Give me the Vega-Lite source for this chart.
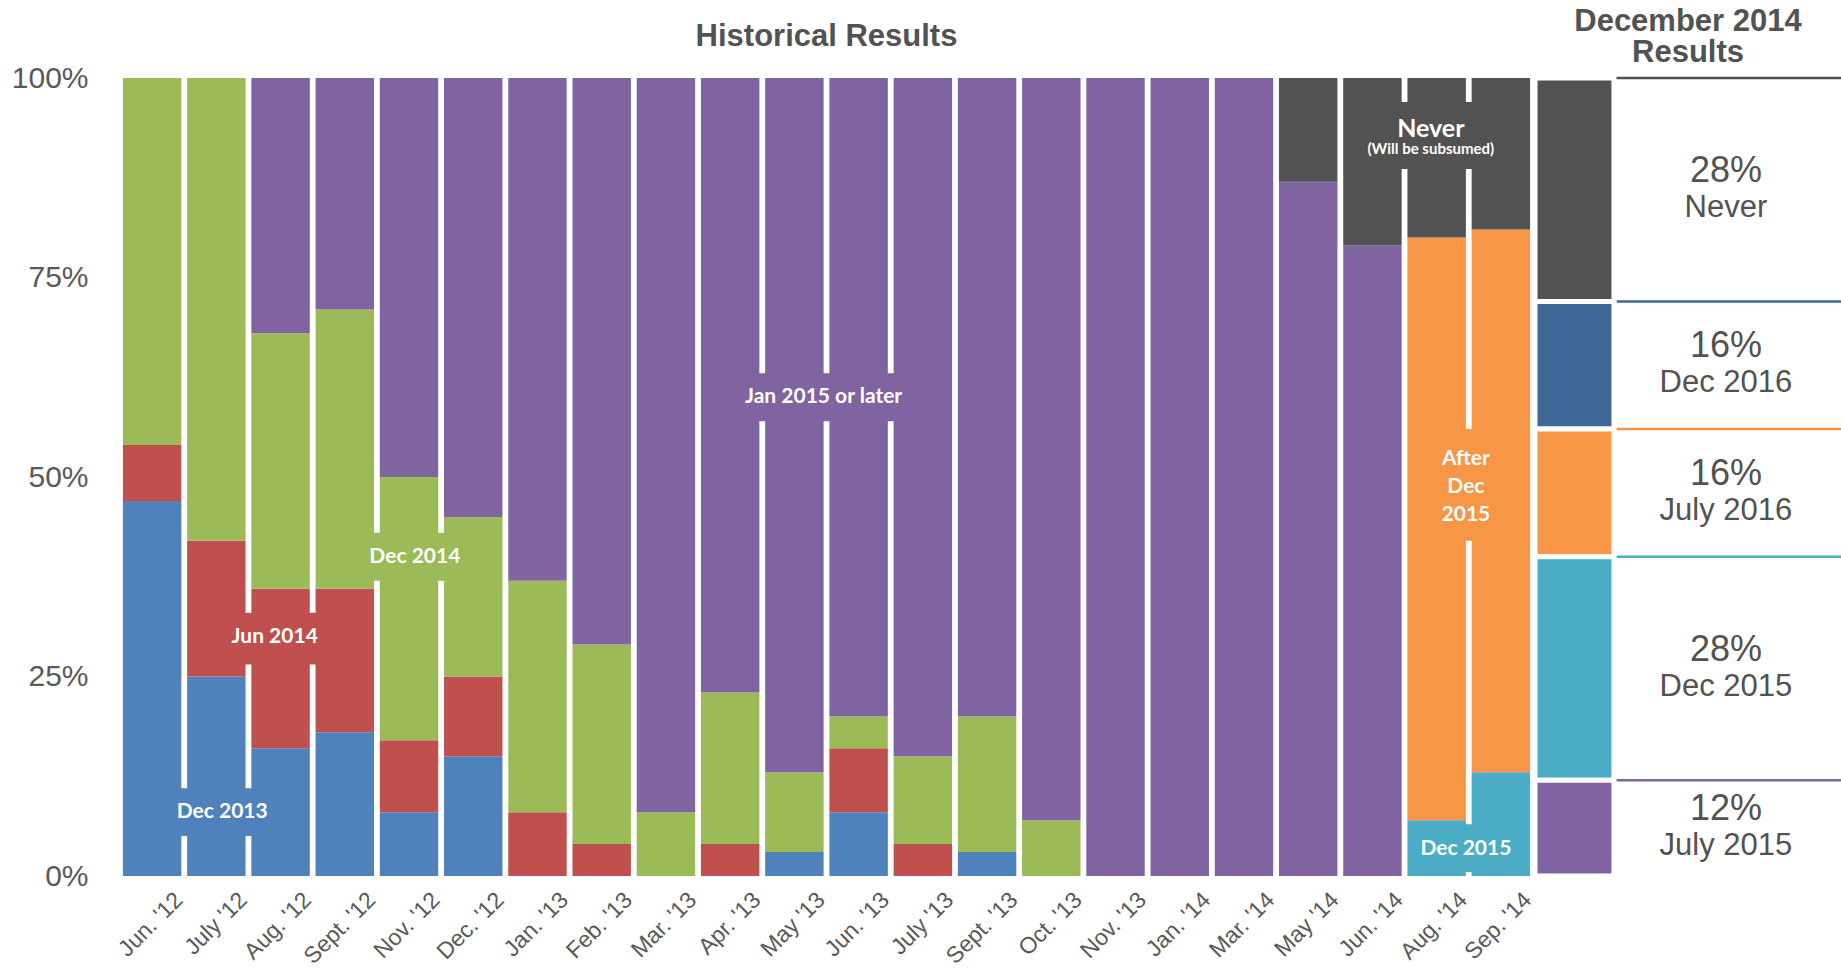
{
  "$schema": "https://vega.github.io/schema/vega-lite/v6.json",
  "padding": {"left": 11, "top": 5, "right": 0, "bottom": 0},
  "background": "white",
  "bounds": "flush",
  "spacing": 2,
  "config": {"view": {"stroke": null}, "font": "Liberation Sans"},
  "datasets": {
    "hist": [
      {"month": "Jun. '12", "status": "Dec 2013", "when": "2013-12", "pct": 47},
      {"month": "Jun. '12", "status": "Jun 2014", "when": "2014-06", "pct": 7},
      {"month": "Jun. '12", "status": "Dec 2014", "when": "2014-12", "pct": 46},
      {"month": "July '12", "status": "Dec 2013", "when": "2013-12", "pct": 25},
      {"month": "July '12", "status": "Jun 2014", "when": "2014-06", "pct": 17},
      {"month": "July '12", "status": "Dec 2014", "when": "2014-12", "pct": 58},
      {"month": "Aug. '12", "status": "Dec 2013", "when": "2013-12", "pct": 16},
      {"month": "Aug. '12", "status": "Jun 2014", "when": "2014-06", "pct": 20},
      {"month": "Aug. '12", "status": "Dec 2014", "when": "2014-12", "pct": 32},
      {"month": "Aug. '12", "status": "Jan 2015 or later", "when": "2015-01", "pct": 32},
      {"month": "Sept. '12", "status": "Dec 2013", "when": "2013-12", "pct": 18},
      {"month": "Sept. '12", "status": "Jun 2014", "when": "2014-06", "pct": 18},
      {"month": "Sept. '12", "status": "Dec 2014", "when": "2014-12", "pct": 35},
      {"month": "Sept. '12", "status": "Jan 2015 or later", "when": "2015-01", "pct": 29},
      {"month": "Nov. '12", "status": "Dec 2013", "when": "2013-12", "pct": 8},
      {"month": "Nov. '12", "status": "Jun 2014", "when": "2014-06", "pct": 9},
      {"month": "Nov. '12", "status": "Dec 2014", "when": "2014-12", "pct": 33},
      {"month": "Nov. '12", "status": "Jan 2015 or later", "when": "2015-01", "pct": 50},
      {"month": "Dec. '12", "status": "Dec 2013", "when": "2013-12", "pct": 15},
      {"month": "Dec. '12", "status": "Jun 2014", "when": "2014-06", "pct": 10},
      {"month": "Dec. '12", "status": "Dec 2014", "when": "2014-12", "pct": 20},
      {"month": "Dec. '12", "status": "Jan 2015 or later", "when": "2015-01", "pct": 55},
      {"month": "Jan. '13", "status": "Jun 2014", "when": "2014-06", "pct": 8},
      {"month": "Jan. '13", "status": "Dec 2014", "when": "2014-12", "pct": 29},
      {"month": "Jan. '13", "status": "Jan 2015 or later", "when": "2015-01", "pct": 63},
      {"month": "Feb. '13", "status": "Jun 2014", "when": "2014-06", "pct": 4},
      {"month": "Feb. '13", "status": "Dec 2014", "when": "2014-12", "pct": 25},
      {"month": "Feb. '13", "status": "Jan 2015 or later", "when": "2015-01", "pct": 71},
      {"month": "Mar. '13", "status": "Dec 2014", "when": "2014-12", "pct": 8},
      {"month": "Mar. '13", "status": "Jan 2015 or later", "when": "2015-01", "pct": 92},
      {"month": "Apr. '13", "status": "Jun 2014", "when": "2014-06", "pct": 4},
      {"month": "Apr. '13", "status": "Dec 2014", "when": "2014-12", "pct": 19},
      {"month": "Apr. '13", "status": "Jan 2015 or later", "when": "2015-01", "pct": 77},
      {"month": "May '13", "status": "Dec 2013", "when": "2013-12", "pct": 3},
      {"month": "May '13", "status": "Dec 2014", "when": "2014-12", "pct": 10},
      {"month": "May '13", "status": "Jan 2015 or later", "when": "2015-01", "pct": 87},
      {"month": "Jun. '13", "status": "Dec 2013", "when": "2013-12", "pct": 8},
      {"month": "Jun. '13", "status": "Jun 2014", "when": "2014-06", "pct": 8},
      {"month": "Jun. '13", "status": "Dec 2014", "when": "2014-12", "pct": 4},
      {"month": "Jun. '13", "status": "Jan 2015 or later", "when": "2015-01", "pct": 80},
      {"month": "July '13", "status": "Jun 2014", "when": "2014-06", "pct": 4},
      {"month": "July '13", "status": "Dec 2014", "when": "2014-12", "pct": 11},
      {"month": "July '13", "status": "Jan 2015 or later", "when": "2015-01", "pct": 85},
      {"month": "Sept. '13", "status": "Dec 2013", "when": "2013-12", "pct": 3},
      {"month": "Sept. '13", "status": "Dec 2014", "when": "2014-12", "pct": 17},
      {"month": "Sept. '13", "status": "Jan 2015 or later", "when": "2015-01", "pct": 80},
      {"month": "Oct. '13", "status": "Dec 2014", "when": "2014-12", "pct": 7},
      {"month": "Oct. '13", "status": "Jan 2015 or later", "when": "2015-01", "pct": 93},
      {"month": "Nov. '13", "status": "Jan 2015 or later", "when": "2015-01", "pct": 100},
      {"month": "Jan. '14", "status": "Jan 2015 or later", "when": "2015-01", "pct": 100},
      {"month": "Mar. '14", "status": "Jan 2015 or later", "when": "2015-01", "pct": 100},
      {"month": "May '14", "status": "Jan 2015 or later", "when": "2015-01", "pct": 87},
      {"month": "May '14", "status": "Never", "when": "never", "pct": 13},
      {"month": "Jun. '14", "status": "Jan 2015 or later", "when": "2015-01", "pct": 79},
      {"month": "Jun. '14", "status": "Never", "when": "never", "pct": 21},
      {"month": "Aug. '14", "status": "Dec 2015", "when": "2015-12", "pct": 7},
      {"month": "Aug. '14", "status": "After Dec 2015", "when": "2016-01", "pct": 73},
      {"month": "Aug. '14", "status": "Never", "when": "never", "pct": 20},
      {"month": "Sep. '14", "status": "Dec 2015", "when": "2015-12", "pct": 13},
      {"month": "Sep. '14", "status": "After Dec 2015", "when": "2016-01", "pct": 68},
      {"month": "Sep. '14", "status": "Never", "when": "never", "pct": 19}
    ],
    "notebg": [
      {"from": "Jun. '12", "to": "Aug. '12", "lo": 5, "hi": 11, "status": "Dec 2013"},
      {"from": "July '12", "to": "Sept. '12", "lo": 26.5, "hi": 33, "status": "Jun 2014"},
      {"from": "Sept. '12", "to": "Dec. '12", "lo": 37, "hi": 43, "status": "Dec 2014"},
      {"from": "Apr. '13", "to": "July '13", "lo": 57, "hi": 63, "status": "Jan 2015 or later"},
      {"from": "Jun. '14", "to": "Sep. '14", "lo": 88.6, "hi": 97, "status": "Never"},
      {"from": "Aug. '14", "to": "Sep. '14", "lo": 42, "hi": 56, "status": "After Dec 2015"},
      {"from": "Aug. '14", "to": "Sep. '14", "lo": 0.5, "hi": 6.5, "status": "Dec 2015"}
    ],
    "notes": [
      {"grp": "a", "month": "July '12", "y": 8, "label": "Dec 2013"},
      {"grp": "a", "month": "Nov. '12", "y": 40, "label": "Dec 2014"},
      {"grp": "b", "month": "Aug. '12", "y": 30, "label": "Jun 2014"},
      {"grp": "c", "month": "May '13", "y": 60, "label": "Jan 2015 or later"},
      {"grp": "c", "month": "Aug. '14", "y": 52.3, "label": "After"},
      {"grp": "c", "month": "Aug. '14", "y": 48.7, "label": "Dec"},
      {"grp": "c", "month": "Aug. '14", "y": 45.3, "label": "2015"},
      {"grp": "c", "month": "Aug. '14", "y": 3.4, "label": "Dec 2015"},
      {"grp": "d", "month": "Aug. '14", "y": 93.6, "label": "Never"},
      {"grp": "e", "month": "Aug. '14", "y": 91.1, "label": "(Will be subsumed)"}
    ],
    "dec14": [
      {"status": "Never", "when": "never", "pct": 28},
      {"status": "Dec 2016", "when": "2016-12", "pct": 16},
      {"status": "July 2016", "when": "2016-07", "pct": 16},
      {"status": "Dec 2015", "when": "2015-12", "pct": 28},
      {"status": "July 2015", "when": "2015-07", "pct": 12}
    ]
  },
  "hconcat": [
    {
      "width": 1413,
      "height": 798,
      "title": {"text": "Historical Results", "font": "Liberation Sans", "fontSize": 31, "fontWeight": "bold", "color": "#525252", "anchor": "middle", "offset": 30, "dy": 20},
      "layer": [
        {
          "data": {"name": "hist"},
          "mark": {"type": "bar"},
          "encoding": {
            "x": {
              "field": "month", "type": "nominal", "title": null,
              "scale": {
                "domain": ["Jun. '12", "July '12", "Aug. '12", "Sept. '12", "Nov. '12", "Dec. '12", "Jan. '13", "Feb. '13", "Mar. '13", "Apr. '13", "May '13", "Jun. '13", "July '13", "Sept. '13", "Oct. '13", "Nov. '13", "Jan. '14", "Mar. '14", "May '14", "Jun. '14", "Aug. '14", "Sep. '14"],
                "paddingInner": 0.09, "paddingOuter": 0.045
              },
              "axis": {
                "title": null, "domain": false, "ticks": false, "tickSize": 0,
                "labelAngle": -45, "labelAlign": "right", "labelBaseline": "middle",
                "labelOffset": 27, "labelPadding": 20,
                "labelFont": "Liberation Sans", "labelFontSize": 23, "labelColor": "#595959"
              }
            },
            "y": {
              "field": "pct", "type": "quantitative", "stack": "zero", "title": null,
              "scale": {"domain": [0, 100], "nice": false},
              "axis": {
                "title": null, "domain": false, "ticks": false, "grid": false,
                "values": [0, 25, 50, 75, 100],
                "labelExpr": "datum.value + '%'",
                "labelPadding": 32,
                "labelFont": "Liberation Sans", "labelFontSize": 30, "labelColor": "#595959"
              }
            },
            "color": {
              "field": "status", "type": "nominal", "legend": null,
              "scale": {
                "domain": ["Dec 2013", "Jun 2014", "Dec 2014", "Jan 2015 or later", "Dec 2015", "After Dec 2015", "Never", "July 2015", "July 2016", "Dec 2016"],
                "range": ["#4F81BD", "#C0504D", "#9BBB59", "#8064A2", "#4BACC6", "#F79646", "#525252", "#8064A2", "#F79646", "#3F6797"]
              }
            },
            "order": {"field": "when", "sort": "ascending"}
          }
        },
        {
          "data": {"name": "notebg"},
          "mark": {"type": "rect"},
          "encoding": {
            "x": {"field": "from", "type": "nominal", "bandPosition": 0.5, "title": null},
            "x2": {"field": "to", "bandPosition": 0.5},
            "y": {"field": "lo", "type": "quantitative", "title": null},
            "y2": {"field": "hi"},
            "color": {"field": "status", "type": "nominal", "legend": null}
          }
        },
        {
          "data": {"name": "notes"},
          "transform": [{"filter": "datum.grp == 'a'"}],
          "mark": {"type": "text", "font": "Lato", "fontWeight": "bold", "fontSize": 21, "color": "white", "baseline": "middle"},
          "encoding": {
            "x": {"field": "month", "type": "nominal", "bandPosition": 0.6, "title": null},
            "y": {"field": "y", "type": "quantitative", "title": null},
            "text": {"field": "label"}
          }
        },
        {
          "data": {"name": "notes"},
          "transform": [{"filter": "datum.grp == 'b'"}],
          "mark": {"type": "text", "font": "Lato", "fontWeight": "bold", "fontSize": 21, "color": "white", "baseline": "middle"},
          "encoding": {
            "x": {"field": "month", "type": "nominal", "bandPosition": 0.4, "title": null},
            "y": {"field": "y", "type": "quantitative", "title": null},
            "text": {"field": "label"}
          }
        },
        {
          "data": {"name": "notes"},
          "transform": [{"filter": "datum.grp == 'c'"}],
          "mark": {"type": "text", "font": "Lato", "fontWeight": "bold", "fontSize": 21, "color": "white", "baseline": "middle"},
          "encoding": {
            "x": {"field": "month", "type": "nominal", "bandPosition": 1.0, "title": null},
            "y": {"field": "y", "type": "quantitative", "title": null},
            "text": {"field": "label"}
          }
        },
        {
          "data": {"name": "notes"},
          "transform": [{"filter": "datum.grp == 'd'"}],
          "mark": {"type": "text", "font": "Lato", "fontWeight": "bold", "fontSize": 25, "color": "white", "baseline": "middle"},
          "encoding": {
            "x": {"field": "month", "type": "nominal", "bandPosition": 0.4, "title": null},
            "y": {"field": "y", "type": "quantitative", "title": null},
            "text": {"field": "label"}
          }
        },
        {
          "data": {"name": "notes"},
          "transform": [{"filter": "datum.grp == 'e'"}],
          "mark": {"type": "text", "font": "Lato", "fontWeight": "bold", "fontSize": 15, "color": "white", "baseline": "middle"},
          "encoding": {
            "x": {"field": "month", "type": "nominal", "bandPosition": 0.4, "title": null},
            "y": {"field": "y", "type": "quantitative", "title": null},
            "text": {"field": "label"}
          }
        }
      ]
    },
    {
      "width": 306,
      "height": 798,
      "title": {"text": ["December 2014", "Results"], "font": "Liberation Sans", "fontSize": 31, "fontWeight": "bold", "color": "#525252", "anchor": "middle", "offset": 7, "lineHeight": 31},
      "data": {"name": "dec14"},
      "transform": [
        {"stack": "pct", "groupby": [], "sort": [{"field": "when", "order": "ascending"}], "as": ["lo", "hi"]},
        {"calculate": "(datum.lo + datum.hi) / 2", "as": "mid"},
        {"calculate": "datum.pct + '%'", "as": "pctText"}
      ],
      "layer": [
        {
          "mark": {"type": "rule", "strokeWidth": 2.5},
          "encoding": {
            "x": {"datum": 0, "type": "quantitative", "scale": {"domain": [0, 1], "nice": false, "zero": false}, "axis": null},
            "x2": {"datum": 1},
            "y": {"field": "hi", "type": "quantitative", "scale": {"domain": [0, 100], "nice": false}, "axis": null},
            "color": {"field": "status", "type": "nominal", "legend": null}
          }
        },
        {
          "mark": {"type": "rect", "stroke": "white", "strokeWidth": 5},
          "encoding": {
            "x": {"datum": 0, "type": "quantitative"},
            "x2": {"datum": 0.258},
            "y": {"field": "lo", "type": "quantitative"},
            "y2": {"field": "hi"},
            "color": {"field": "status", "type": "nominal", "legend": null}
          }
        },
        {
          "mark": {"type": "text", "font": "Liberation Sans", "fontSize": 36, "color": "#525252", "baseline": "middle", "dy": -19},
          "encoding": {
            "x": {"datum": 0.624, "type": "quantitative"},
            "y": {"field": "mid", "type": "quantitative"},
            "text": {"field": "pctText"}
          }
        },
        {
          "mark": {"type": "text", "font": "Liberation Sans", "fontSize": 31, "color": "#525252", "baseline": "middle", "dy": 18},
          "encoding": {
            "x": {"datum": 0.624, "type": "quantitative"},
            "y": {"field": "mid", "type": "quantitative"},
            "text": {"field": "status"}
          }
        }
      ]
    }
  ]
}
